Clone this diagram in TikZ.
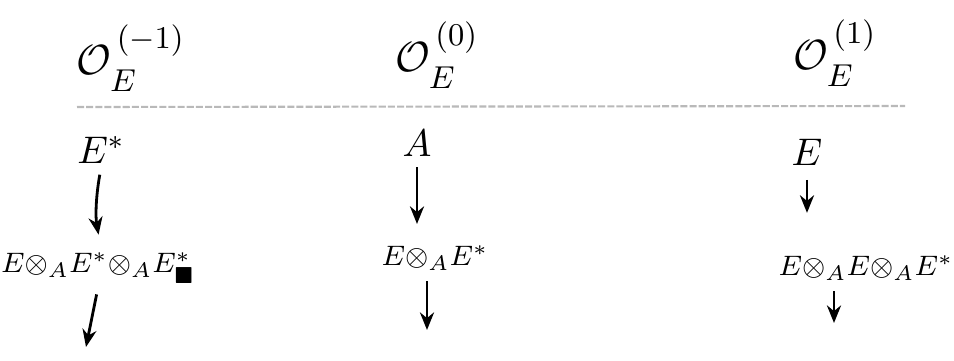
\documentclass[tikz,border=0pt]{standalone}
\usepackage{amsmath,amssymb}
\usetikzlibrary{positioning, arrows.meta, calc}

\newcommand{\sheafO}[1]{\mathcal{O}_{\raisebox{-2pt}{$\scriptstyle E$}}^{\,\raisebox{3pt}{$\scriptstyle(#1)$}}}

\begin{document}
\begin{tikzpicture}[x=0.01cm, y=-0.01cm,
  % ---- Style definitions ----
  head/.style={inner sep=1pt, font=\fontsize{13}{15}\selectfont},
  term/.style={inner sep=1pt, font=\fontsize{11}{13}\selectfont},
  prod/.style={inner sep=1pt, font=\fontsize{8}{10}\selectfont},
  arr/.style={-{Stealth[length=5pt, width=4pt]}, line width=0.8pt, color=black},
  sep/.style={draw=gray!55, line width=0.6pt, dash pattern=on 2pt off 0.6pt},
]
\useasboundingbox (0,0) rectangle (954,360);

% ---- Column headers ----
\node[head] (h1) at (131,58) {$\sheafO{-1}$};
\node[head] (h2) at (437,55) {$\sheafO{0}$};
\node[head] (h3) at (835,53) {$\sheafO{1}$};

\draw[sep] (77,107) -- (905,106);

% ---- First terms ----
\node[term] (e1) at (101,150) {$E^{*}$};
\node[term] (a2) at (417,143) {$A$};
\node[term] (e3) at (807,152) {$E$};

% ---- Tensor products ----
\node[prod] (t1) at (98,268) {$E{\otimes_A}E^{*}{\otimes_A}E^{*}_{\blacksquare}$};
\node[prod] (t2) at (435,258) {$E{\otimes_A}E^{*}$};
\node[prod] (t3) at (866,268) {$E{\otimes_A}E{\otimes_A}E^{*}$};

% ---- Loose ends of the lower arrows ----
\coordinate (c1) at (86,347);
\coordinate (c2) at (427,330);
\coordinate (c3) at (834,323);

% ---- Arrows ----
\draw[arr, shorten <=2pt, shorten >=4pt] (e1.south) to[bend right=10] (e1.south |- t1.north);
\draw[arr, shorten <=2pt, shorten >=5pt] (a2.south) -- (a2.south |- t2.north);
\draw[arr, shorten <=3pt, shorten >=11pt] (e3.south) -- (e3.south |- t3.north);

\draw[arr, shorten <=2pt] (t1.south) -- (c1);
\draw[arr, shorten <=2pt] (t2.south -| c2) -- (c2);
\draw[arr, shorten <=2pt] (t3.south -| c3) -- (c3);

\end{tikzpicture}
\end{document}
